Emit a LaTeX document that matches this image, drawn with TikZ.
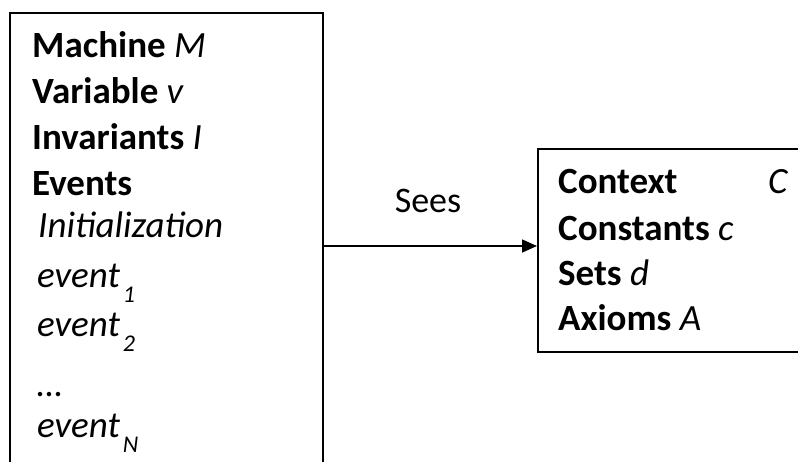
\documentclass[tikz,border=0pt]{standalone}
\usepackage{fontspec}
\setmainfont{Carlito}
\usetikzlibrary{arrows.meta}
\tikzset{
  box/.style={draw=black, line width=2pt, inner sep=0pt, fill=none},
  txt/.style={anchor=base west, inner sep=0pt, font=\fontsize{37}{37}\selectfont},
  conn/.style={line width=1.6pt, -{Triangle[length=15pt,width=13pt]}}
}
\newcommand{\subsc}[1]{\hspace{3pt}\raisebox{-15pt}{\fontsize{24}{24}\selectfont\itshape #1}}
\begin{document}
\begin{tikzpicture}[x=1pt,y=-1pt]
\useasboundingbox (0,0) rectangle (798,461);
\clip (0,0) rectangle (798,461);
\fill[white] (0,0) rectangle (798,461);
% boxes
\node[box, anchor=north west, minimum width=313pt, minimum height=466pt] (M) at (9,12) {};
\node[box, anchor=north west, minimum width=300pt, minimum height=203pt] (C) at (537,148) {};
% left texts
\node[txt] (m1) at (32,57) {\textbf{Machine} \textit{M}};
\node[txt] (m2) at (32,103) {\textbf{Variable} \textit{v}};
\node[txt] (m3) at (32,149) {\textbf{Invariants} \textit{I}};
\node[txt] (m4) at (32,195) {\textbf{Events}};
\node[txt] (m5) at (38,237) {\textit{Initialization}};
\node[txt] (m6) at (37,287) {\textit{event}\subsc{1}};
\node[txt] (m7) at (37,336) {\textit{event}\subsc{2}};
\node[txt] (m8) at (37,396) {\textit{\dots}};
\node[txt] (m9) at (37,437) {\textit{event}\subsc{N}};
% right texts
\node[txt] (c1) at (558,193) {\textbf{Context}};
\node[txt] (c1b) at (768,193) {\textit{C}};
\node[txt] (c2) at (558,240) {\textbf{Constants} \textit{c}};
\node[txt] (c3) at (558,285) {\textbf{Sets} \textit{d}};
\node[txt] (c4) at (558,330) {\textbf{Axioms} \textit{A}};
% connector
\draw[conn] (M.east) -- (M.east -| C.west);
\node[anchor=base, inner sep=0pt, font=\fontsize{36}{36}\selectfont] (sees) at (428,212) {Sees};
\end{tikzpicture}
\end{document}
